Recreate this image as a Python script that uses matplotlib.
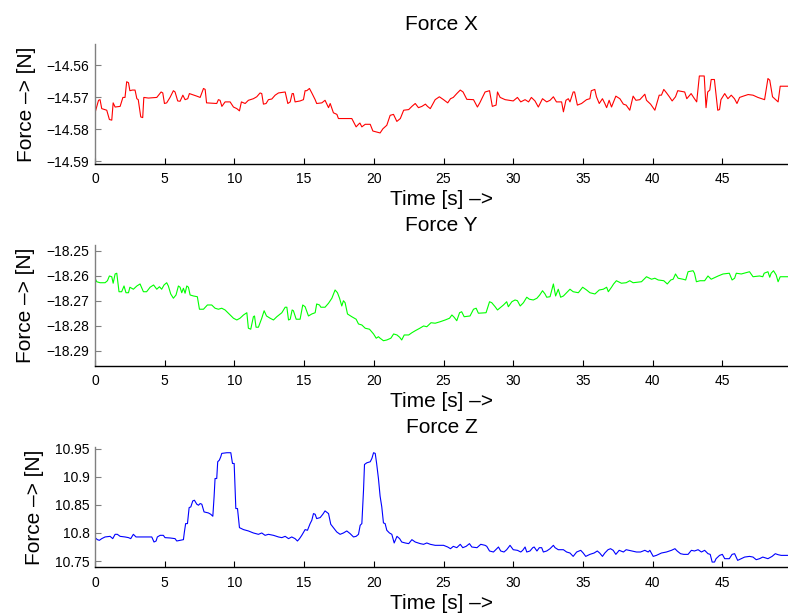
import numpy as np
import matplotlib
matplotlib.use("Agg")
import matplotlib.pyplot as plt

plt.rcParams['font.family'] = ['Liberation Sans', 'DejaVu Sans']

# Force X
t_x = [0.0, 0.25, 0.36, 0.48, 0.84, 1.03, 1.2, 1.3, 1.44, 1.8, 2.0, 2.15, 2.27, 2.4, 2.5,
       2.68, 2.87, 3.0, 3.1, 3.28, 3.42, 3.5, 3.83, 4.43, 4.74, 4.86, 4.98, 5.14, 5.38, 5.62,
       5.74, 5.93, 6.1, 6.3, 6.46, 6.65, 6.77, 7.3, 7.54, 7.78, 7.9, 8.0, 8.73, 8.85, 8.97,
       9.1, 9.33, 9.69, 9.93, 10.17, 10.36, 10.5, 10.77, 11.0, 11.36, 11.6, 11.84, 11.96, 12.08, 12.27,
       12.44, 12.68, 12.92, 13.16, 13.64, 13.83, 14.0, 14.14, 14.23, 14.35, 14.71, 14.95, 15.07, 15.19, 15.38,
       15.55, 15.79, 15.9, 16.27, 16.5, 16.63, 16.75, 16.87, 17.1, 17.35, 17.46, 18.06, 18.42, 18.59, 18.73,
       18.9, 19.0, 19.14, 19.38, 19.74, 19.93, 20.2, 20.45, 20.65, 20.93, 21.17, 21.41, 21.65, 21.9, 22.14,
       22.5, 22.73, 22.97, 23.2, 23.45, 23.7, 23.85, 24.05, 24.4, 24.7, 25.0, 25.3, 25.5, 25.7, 25.95,
       26.2, 26.4, 26.67, 27.15, 27.43, 27.6, 27.98, 28.3, 28.5, 28.77, 28.87, 29.06, 29.42, 30.0, 30.3,
       30.54, 30.85, 31.1, 31.3, 31.56, 31.8, 32.1, 32.4, 32.64, 32.88, 33.1, 33.47, 33.6, 33.78, 33.95,
       34.07, 34.3, 34.4, 34.6, 34.9, 35.26, 35.5, 35.6, 35.85, 35.97, 36.17, 36.4, 36.57, 36.7, 36.88,
       37.05, 37.36, 37.65, 37.9, 38.1, 38.36, 38.6, 38.8, 39.08, 39.44, 39.56, 39.85, 40.16, 40.47, 40.63,
       40.8, 41.0, 41.2, 41.4, 41.64, 41.8, 42.3, 42.45, 42.76, 43.0, 43.16, 43.35, 43.7, 43.83, 43.95,
       44.1, 44.2, 44.43, 44.67, 44.8, 44.9, 45.17, 45.4, 45.64, 45.87, 46.05, 46.24, 46.5, 46.85, 47.2,
       47.55, 48.03, 48.27, 48.4, 48.6, 48.87, 49.0, 49.15, 49.7]
f_x = [-14.5749, -14.5710, -14.5708, -14.5736, -14.5741, -14.5770, -14.5772, -14.5718, -14.5731, -14.5729,
       -14.5701, -14.5701, -14.5652, -14.5655, -14.5680, -14.5678, -14.5678, -14.5705, -14.5708, -14.5762,
       -14.5764, -14.5701, -14.5703, -14.5701, -14.5684, -14.5687, -14.5720, -14.5718, -14.5701, -14.5680,
       -14.5684, -14.5712, -14.5713, -14.5694, -14.5708, -14.5705, -14.5689, -14.5697, -14.5701, -14.5673,
       -14.5676, -14.5718, -14.5720, -14.5708, -14.5710, -14.5729, -14.5715, -14.5715, -14.5731, -14.5736,
       -14.5743, -14.5715, -14.5720, -14.5710, -14.5705, -14.5699, -14.5687, -14.5689, -14.5722, -14.5720,
       -14.5708, -14.5706, -14.5694, -14.5687, -14.5684, -14.5720, -14.5715, -14.5689, -14.5689, -14.5715,
       -14.5712, -14.5708, -14.5680, -14.5680, -14.5673, -14.5687, -14.5708, -14.5720, -14.5718, -14.5710,
       -14.5722, -14.5733, -14.5720, -14.5749, -14.5754, -14.5767, -14.5767, -14.5767, -14.5781, -14.5793,
       -14.5785, -14.5781, -14.5793, -14.5785, -14.5785, -14.5806, -14.5809, -14.5812, -14.5799, -14.5788,
       -14.5757, -14.5754, -14.5776, -14.5767, -14.5741, -14.5739, -14.5729, -14.5720, -14.5733, -14.5729,
       -14.5722, -14.5729, -14.5736, -14.5708, -14.5699, -14.5708, -14.5718, -14.5705, -14.5701, -14.5689,
       -14.5678, -14.5684, -14.5707, -14.5708, -14.5731, -14.5718, -14.5684, -14.5680, -14.5729, -14.5725,
       -14.5684, -14.5701, -14.5708, -14.5712, -14.5701, -14.5715, -14.5708, -14.5715, -14.5701, -14.5712,
       -14.5731, -14.5705, -14.5715, -14.5710, -14.5699, -14.5715, -14.5715, -14.5746, -14.5710, -14.5705,
       -14.5715, -14.5684, -14.5684, -14.5725, -14.5720, -14.5708, -14.5705, -14.5680, -14.5676, -14.5699,
       -14.5720, -14.5705, -14.5720, -14.5733, -14.5710, -14.5731, -14.5697, -14.5705, -14.5722, -14.5725,
       -14.5741, -14.5697, -14.5710, -14.5708, -14.5691, -14.5710, -14.5722, -14.5741, -14.5694, -14.5694,
       -14.5676, -14.5687, -14.5699, -14.5712, -14.5699, -14.5680, -14.5684, -14.5705, -14.5689, -14.5705,
       -14.5715, -14.5634, -14.5634, -14.5733, -14.5684, -14.5678, -14.5645, -14.5645, -14.5741, -14.5739,
       -14.5708, -14.5689, -14.5705, -14.5694, -14.5705, -14.5720, -14.5701, -14.5697, -14.5692, -14.5694,
       -14.5701, -14.5708, -14.5642, -14.5647, -14.5699, -14.5710, -14.5715, -14.5666, -14.5666]

# Force Y
t_y = [0.0, 0.12, 0.36, 0.72, 0.89, 1.03, 1.2, 1.3, 1.44, 1.56, 1.72, 1.91, 2.08, 2.22, 2.4,
       2.5, 2.75, 3.0, 3.23, 3.47, 3.7, 3.95, 4.2, 4.43, 4.62, 4.78, 4.95, 5.14, 5.26, 5.43,
       5.62, 5.81, 5.98, 6.1, 6.22, 6.34, 6.46, 6.58, 6.7, 6.82, 7.06, 7.34, 7.49, 7.78, 8.06,
       8.37, 8.61, 8.85, 9.09, 9.33, 9.69, 9.93, 10.17, 10.4, 10.65, 10.89, 11.0, 11.17, 11.36, 11.44,
       11.55, 11.72, 11.96, 12.13, 12.3, 12.56, 12.8, 13.04, 13.4, 13.64, 13.76, 13.88, 14.0, 14.14, 14.23,
       14.43, 14.71, 14.9, 15.07, 15.31, 15.55, 15.79, 15.9, 16.1, 16.2, 16.5, 16.75, 16.99, 17.22, 17.39,
       17.54, 17.7, 17.82, 17.94, 18.11, 18.42, 18.73, 18.9, 19.14, 19.38, 19.69, 19.98, 20.17, 20.33, 20.45,
       20.69, 20.93, 21.22, 21.42, 21.66, 21.85, 22.0, 22.18, 22.5, 22.73, 22.97, 23.3, 23.57, 23.8, 24.1,
       24.4, 24.76, 25.12, 25.43, 25.6, 25.76, 25.95, 26.15, 26.3, 26.48, 26.9, 27.15, 27.34, 27.5, 28.05,
       28.3, 28.46, 28.7, 28.87, 29.1, 29.3, 29.53, 29.65, 29.9, 30.13, 30.3, 30.5, 30.73, 30.97, 31.16,
       31.44, 31.7, 31.9, 32.1, 32.28, 32.4, 32.64, 32.88, 33.04, 33.23, 33.4, 33.6, 33.83, 34.07, 34.3,
       34.67, 34.98, 35.26, 35.5, 35.86, 36.17, 36.46, 36.7, 36.82, 37.05, 37.2, 37.4, 37.76, 38.1, 38.36,
       38.6, 39.2, 39.56, 39.92, 40.16, 40.4, 40.8, 41.05, 41.3, 41.47, 41.64, 41.83, 42.18, 42.37, 42.54,
       42.9, 43.0, 43.14, 43.4, 43.73, 43.97, 44.2, 44.7, 45.05, 45.5, 45.7, 45.88, 46.0, 46.36, 46.7,
       46.95, 47.2, 47.67, 47.9, 48.0, 48.27, 48.4, 48.5, 48.67, 48.86, 49.0, 49.15, 49.7]
f_y = [-18.2609, -18.2623, -18.2627, -18.2627, -18.2619, -18.2600, -18.2603, -18.2629, -18.2592, -18.2589,
       -18.2663, -18.2663, -18.2640, -18.2667, -18.2667, -18.2645, -18.2653, -18.2640, -18.2632, -18.2663,
       -18.2663, -18.2645, -18.2636, -18.2653, -18.2643, -18.2653, -18.2636, -18.2627, -18.2640, -18.2672,
       -18.2689, -18.2676, -18.2640, -18.2645, -18.2667, -18.2649, -18.2669, -18.2640, -18.2645, -18.2676,
       -18.2680, -18.2683, -18.2733, -18.2733, -18.2716, -18.2716, -18.2729, -18.2733, -18.2729, -18.2736,
       -18.2756, -18.2769, -18.2776, -18.2769, -18.2756, -18.2747, -18.2809, -18.2813, -18.2763, -18.2760,
       -18.2805, -18.2805, -18.2769, -18.2739, -18.2760, -18.2769, -18.2776, -18.2763, -18.2747, -18.2725,
       -18.2725, -18.2776, -18.2773, -18.2736, -18.2739, -18.2773, -18.2773, -18.2716, -18.2723, -18.2760,
       -18.2752, -18.2747, -18.2712, -18.2716, -18.2725, -18.2725, -18.2709, -18.2689, -18.2656, -18.2667,
       -18.2689, -18.2720, -18.2699, -18.2707, -18.2752, -18.2763, -18.2773, -18.2792, -18.2796, -18.2809,
       -18.2813, -18.2832, -18.2849, -18.2843, -18.2849, -18.2859, -18.2856, -18.2849, -18.2832, -18.2836,
       -18.2845, -18.2856, -18.2836, -18.2836, -18.2827, -18.2819, -18.2809, -18.2800, -18.2803, -18.2787,
       -18.2789, -18.2783, -18.2776, -18.2769, -18.2756, -18.2765, -18.2779, -18.2747, -18.2743, -18.2763,
       -18.2760, -18.2733, -18.2729, -18.2749, -18.2747, -18.2703, -18.2707, -18.2723, -18.2736, -18.2725,
       -18.2716, -18.2703, -18.2723, -18.2703, -18.2696, -18.2699, -18.2720, -18.2707, -18.2685, -18.2693,
       -18.2696, -18.2689, -18.2676, -18.2659, -18.2672, -18.2685, -18.2683, -18.2632, -18.2680, -18.2653,
       -18.2685, -18.2680, -18.2667, -18.2653, -18.2663, -18.2667, -18.2645, -18.2656, -18.2667, -18.2672,
       -18.2656, -18.2653, -18.2645, -18.2663, -18.2645, -18.2632, -18.2619, -18.2629, -18.2627, -18.2619,
       -18.2627, -18.2623, -18.2603, -18.2613, -18.2609, -18.2616, -18.2619, -18.2632, -18.2616, -18.2613,
       -18.2592, -18.2609, -18.2613, -18.2616, -18.2583, -18.2579, -18.2589, -18.2623, -18.2619, -18.2619,
       -18.2600, -18.2613, -18.2600, -18.2592, -18.2589, -18.2616, -18.2609, -18.2589, -18.2592, -18.2587,
       -18.2583, -18.2603, -18.2600, -18.2603, -18.2589, -18.2583, -18.2605, -18.2589, -18.2579, -18.2596,
       -18.2623, -18.2603, -18.2603]

# Force Z
t_z = [0.0, 0.17, 0.31, 0.48, 0.72, 1.08, 1.27, 1.44, 1.6, 1.8, 2.15, 2.4, 2.56, 2.75, 2.94,
       3.23, 3.7, 4.07, 4.23, 4.38, 4.47, 4.67, 4.9, 5.02, 5.38, 5.74, 5.86, 6.1, 6.34, 6.41,
       6.5, 6.63, 6.75, 6.87, 7.01, 7.13, 7.3, 7.42, 7.54, 7.66, 7.82, 8.13, 8.3, 8.45, 8.54,
       8.61, 8.73, 8.8, 8.92, 9.02, 9.09, 9.45, 9.74, 9.86, 9.98, 10.1, 10.22, 10.36, 10.65, 11.0,
       11.36, 11.72, 11.96, 12.2, 12.44, 12.8, 13.16, 13.4, 13.64, 13.88, 14.11, 14.35, 14.52, 14.67, 14.83,
       15.07, 15.24, 15.43, 15.55, 15.67, 15.79, 15.9, 16.15, 16.34, 16.5, 16.75, 16.91, 17.1, 17.34, 17.58,
       17.82, 18.06, 18.3, 18.54, 18.73, 18.9, 19.02, 19.14, 19.26, 19.33, 19.5, 19.74, 19.86, 19.98, 20.1,
       20.2, 20.33, 20.45, 20.57, 20.69, 20.81, 20.93, 21.12, 21.29, 21.46, 21.66, 21.85, 22.0, 22.25, 22.5,
       22.73, 22.97, 23.33, 23.57, 23.8, 24.05, 24.4, 25.0, 25.3, 25.5, 25.7, 25.95, 26.2, 26.38, 26.62,
       26.86, 27.03, 27.4, 27.67, 27.98, 28.1, 28.3, 28.58, 28.82, 28.94, 29.1, 29.34, 29.53, 29.77, 30.0,
       30.3, 30.54, 30.68, 30.85, 30.97, 31.2, 31.4, 31.5, 31.7, 31.87, 32.04, 32.16, 32.4, 32.64, 32.88,
       33.0, 33.23, 33.6, 33.83, 34.07, 34.3, 34.55, 34.84, 35.02, 35.2, 35.5, 35.8, 36.03, 36.2, 36.4,
       36.57, 36.8, 36.98, 37.17, 37.36, 37.6, 37.9, 38.1, 38.5, 38.84, 39.13, 39.44, 39.68, 39.8, 40.04,
       40.27, 40.63, 40.99, 41.35, 41.6, 41.76, 42.0, 42.23, 42.54, 42.78, 43.0, 43.26, 43.5, 43.73, 43.97,
       44.13, 44.27, 44.44, 44.55, 44.8, 45.0, 45.17, 45.5, 45.7, 45.88, 46.1, 46.36, 46.6, 46.95, 47.2,
       47.43, 47.67, 47.9, 48.27, 48.57, 48.8, 49.0, 49.22, 49.7]
f_z = [10.7917, 10.7881, 10.7869, 10.7899, 10.7929, 10.7940, 10.7899, 10.7976, 10.7976, 10.7940,
       10.7929, 10.7917, 10.7899, 10.7976, 10.7929, 10.7929, 10.7929, 10.7929, 10.7839, 10.7857,
       10.7929, 10.7958, 10.7958, 10.7917, 10.7911, 10.7899, 10.7857, 10.7869, 10.7881, 10.8018,
       10.8167, 10.8167, 10.8452, 10.8464, 10.8571, 10.8583, 10.8512, 10.8494, 10.8524, 10.8512,
       10.8375, 10.8357, 10.8333, 10.8298, 10.8643, 10.8970, 10.8970, 10.9268, 10.9298, 10.9357,
       10.9417, 10.9429, 10.9429, 10.9238, 10.9238, 10.8435, 10.8435, 10.8095, 10.8060, 10.8036,
       10.8000, 10.7976, 10.8000, 10.7958, 10.7976, 10.7958, 10.7929, 10.7917, 10.7940, 10.7899,
       10.7929, 10.7899, 10.7857, 10.7899, 10.7958, 10.8060, 10.8048, 10.8167, 10.8226, 10.8345,
       10.8333, 10.8256, 10.8274, 10.8333, 10.8393, 10.8345, 10.8155, 10.8095, 10.8018, 10.7976,
       10.8000, 10.8036, 10.7988, 10.7929, 10.7940, 10.7976, 10.8137, 10.8167, 10.8762, 10.9220,
       10.9250, 10.9268, 10.9327, 10.9429, 10.9417, 10.9238, 10.8970, 10.8655, 10.8464, 10.8179,
       10.8167, 10.8048, 10.8000, 10.7976, 10.7822, 10.7940, 10.7899, 10.7839, 10.7822, 10.7810,
       10.7881, 10.7839, 10.7810, 10.7798, 10.7822, 10.7798, 10.7780, 10.7780, 10.7750, 10.7720,
       10.7762, 10.7738, 10.7798, 10.7738, 10.7762, 10.7810, 10.7750, 10.7738, 10.7798, 10.7780,
       10.7762, 10.7679, 10.7661, 10.7720, 10.7750, 10.7679, 10.7661, 10.7702, 10.7780, 10.7702,
       10.7691, 10.7661, 10.7691, 10.7750, 10.7661, 10.7679, 10.7738, 10.7750, 10.7679, 10.7738,
       10.7738, 10.7661, 10.7679, 10.7720, 10.7780, 10.7738, 10.7702, 10.7702, 10.7661, 10.7643,
       10.7583, 10.7661, 10.7691, 10.7643, 10.7583, 10.7619, 10.7643, 10.7679, 10.7643, 10.7583,
       10.7643, 10.7702, 10.7720, 10.7691, 10.7619, 10.7691, 10.7661, 10.7702, 10.7679, 10.7661,
       10.7661, 10.7691, 10.7661, 10.7691, 10.7583, 10.7601, 10.7643, 10.7661, 10.7691, 10.7720,
       10.7679, 10.7631, 10.7619, 10.7619, 10.7691, 10.7679, 10.7702, 10.7661, 10.7691, 10.7631,
       10.7619, 10.7482, 10.7482, 10.7542, 10.7601, 10.7619, 10.7542, 10.7542, 10.7619, 10.7631,
       10.7512, 10.7542, 10.7571, 10.7583, 10.7571, 10.7524, 10.7542, 10.7571, 10.7542, 10.7583,
       10.7631, 10.7613, 10.7601, 10.7601]

titles = ['Force X', 'Force Y', 'Force Z']
colors = ['#ff0000', '#00ff00', '#0000ff']
ylims = [(-14.5909, -14.5534), (-18.2959, -18.2476), (10.7388, 10.9525)]
yticks = [[-14.59, -14.58, -14.57, -14.56],
          [-18.29, -18.28, -18.27, -18.26, -18.25],
          [10.75, 10.8, 10.85, 10.9, 10.95]]
ytick_labels = [['\u221214.59', '\u221214.58', '\u221214.57', '\u221214.56'],
                ['\u221218.29', '\u221218.28', '\u221218.27', '\u221218.26', '\u221218.25'],
                ['10.75', '10.8', '10.85', '10.9', '10.95']]
xticks = [0, 5, 10, 15, 20, 25, 30, 35, 40, 45]

fig = plt.figure(figsize=(7.88, 6.16), dpi=100)
positions = [[0.1206, 0.7338, 0.8794, 0.1948],
             [0.1206, 0.4063, 0.8794, 0.1960],
             [0.1206, 0.0790, 0.8794, 0.1948]]
series = [(t_x, f_x), (t_y, f_y), (t_z, f_z)]

for i in range(3):
    ax = fig.add_axes(positions[i])
    t, f = series[i]
    ax.plot(t, f, color=colors[i], lw=0.8)
    ax.set_xlim(0, 49.71)
    ax.set_ylim(*ylims[i])
    ax.set_xticks(xticks)
    ax.set_yticks(yticks[i])
    ax.set_yticklabels(ytick_labels[i])
    ax.spines['top'].set_visible(False)
    ax.spines['right'].set_visible(False)
    ax.spines['left'].set_color('#808080')
    ax.spines['bottom'].set_color('black')
    ax.spines['left'].set_linewidth(1.0)
    ax.spines['bottom'].set_linewidth(1.0)
    ax.tick_params(axis='x', direction='in', length=4, width=0.8, colors='black',
                   labelsize=10, pad=6)
    ax.tick_params(axis='y', direction='in', length=4, width=0.8, color='#808080',
                   labelcolor='black', labelsize=10, pad=4)
    ax.set_title(titles[i], fontsize=15, pad=10)
    ax.set_xlabel('Time [s] \u2013>', fontsize=15, labelpad=3)
    ax.set_ylabel('Force \u2013> [N]', fontsize=15, labelpad=8)

fig.savefig('out.png', dpi=100)
